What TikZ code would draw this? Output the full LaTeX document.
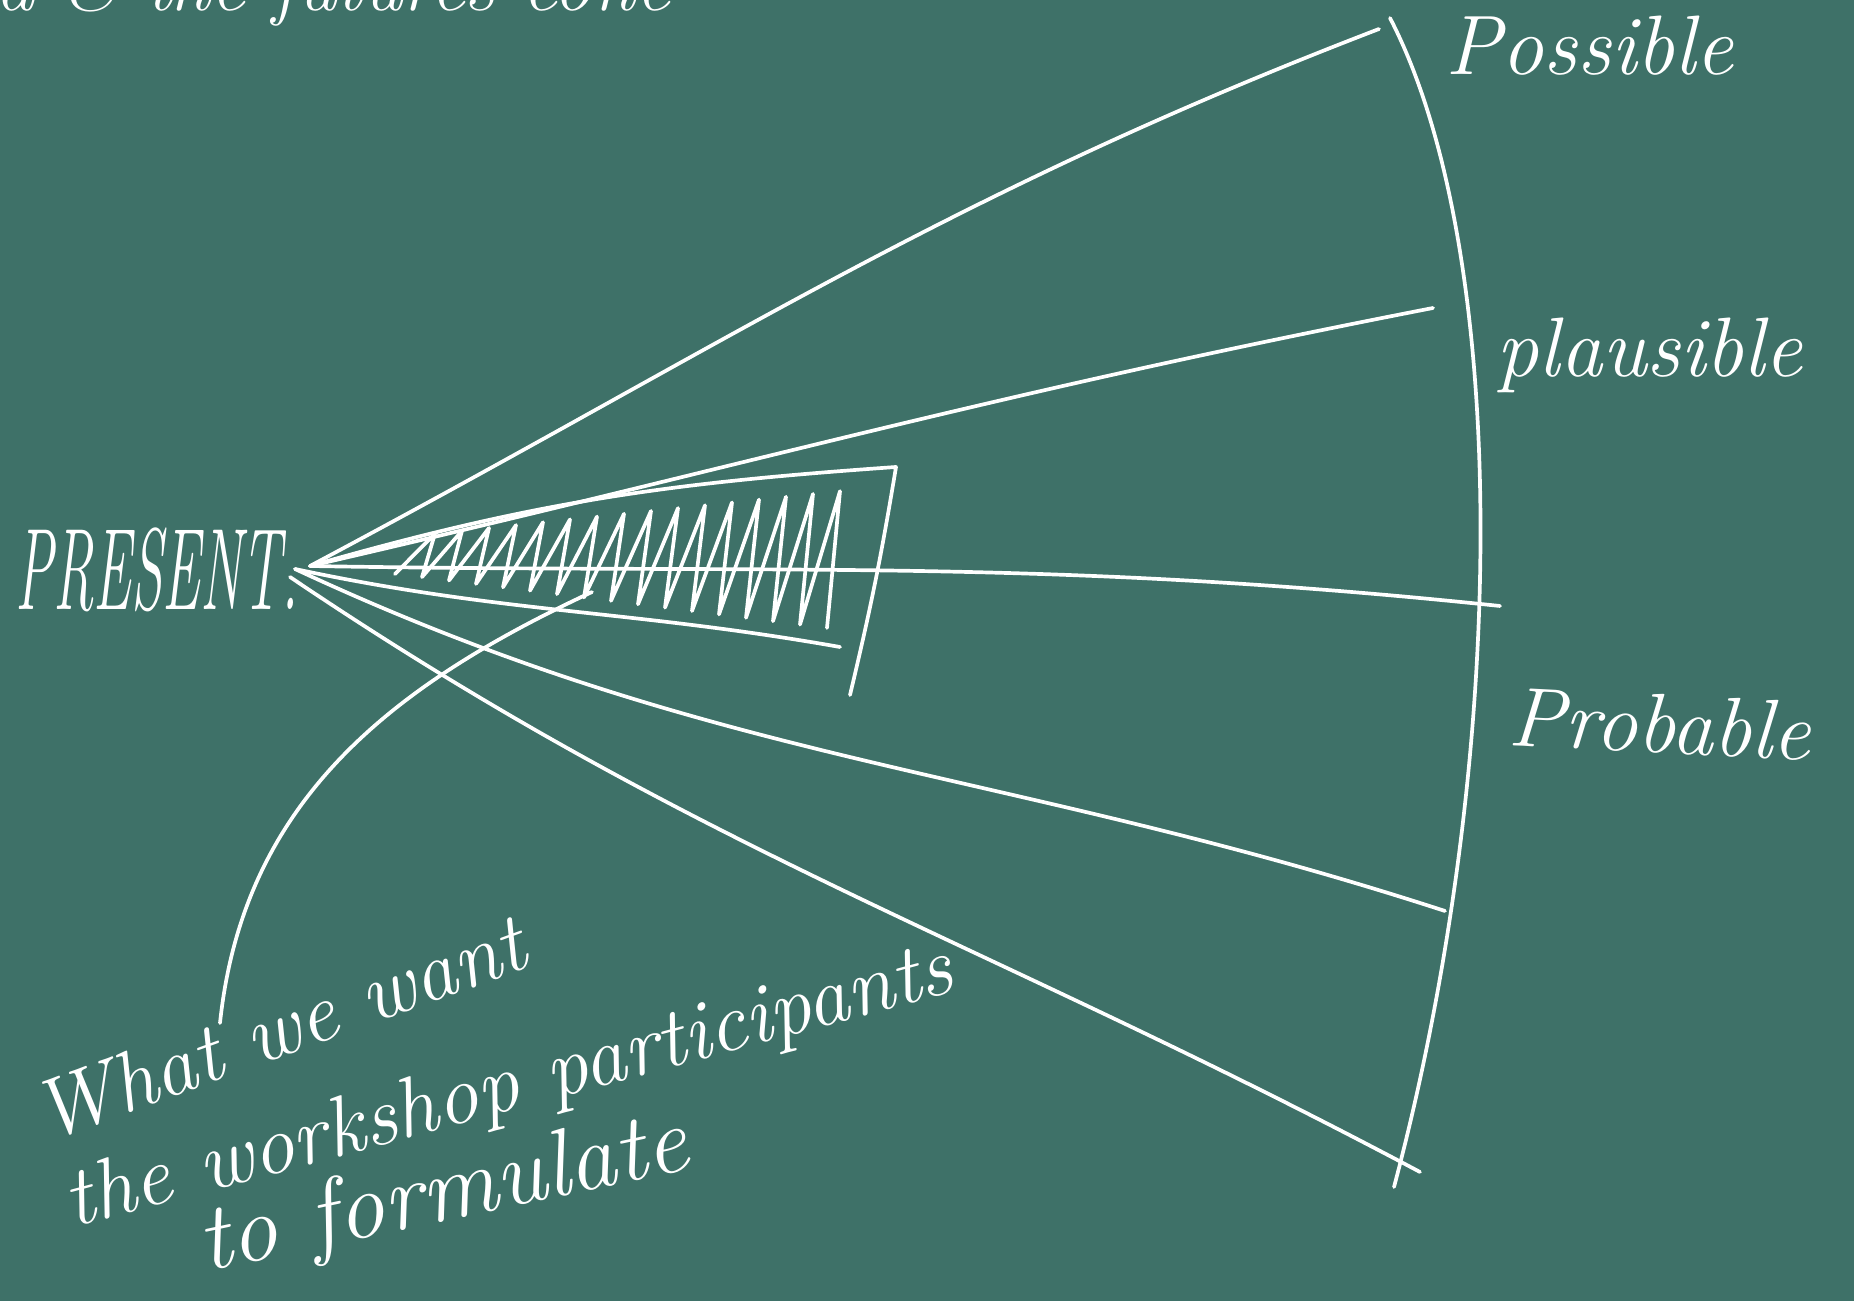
\documentclass[tikz,border=0pt]{standalone}
\usepackage{graphicx}
\usepackage{xcolor}
\definecolor{BoardGreen}{HTML}{3E7168}
\definecolor{Chalk}{HTML}{FFFFFF}
\usepackage{tikz}

\begin{document}
\begin{tikzpicture}[
  x=0.01cm, y=0.01cm,
  chalk/.style={draw=Chalk, line width=1.05pt, line cap=round, line join=round},
  tag/.style={text=Chalk, inner sep=0pt, anchor=base west,
    font=\fontsize{24}{28}\selectfont\itshape},
  hand/.style={text=Chalk, inner sep=0pt, anchor=base west,
    font=\fontsize{24}{28}\selectfont\itshape}
]
\fill[BoardGreen] (0,0) rectangle (1854,-1301);
\useasboundingbox (0,0) rectangle (1854,-1301);
\clip (0,0) rectangle (1854,-1301);

% heading, cut off by the top edge
\node[hand, font=\fontsize{22}{26}\selectfont\itshape] (heading) at (-5,-11) {a \& the futures cone};

% the cone
\coordinate (present) at (310,-566);
\coordinate (presentLow) at (295,-569);
\coordinate (presentBot) at (290,-577);
\coordinate (possEnd) at (1379,-29);
\coordinate (plauEnd) at (1433,-308);
\coordinate (probEnd) at (1500,-606);
\coordinate (lowEnd) at (1445,-911);
\coordinate (botEnd) at (1420,-1172);
\coordinate (arcTop) at (1390,-18);
\coordinate (arcBot) at (1394,-1187);

\node[anchor=base west, inner sep=0pt, text=Chalk, font=\fontsize{33}{38}\selectfont\itshape]
  (presentTxt) at (15,-610) {\scalebox{0.49}[1]{PRESENT.}};

\draw[chalk] (present) to[out=28, in=-159] (possEnd);
\draw[chalk] (present) to[out=13, in=-169] (plauEnd);
\draw[chalk] (present) to[out=-1, in=174] (probEnd);
\draw[chalk] (presentLow) to[out=-25, in=162] (lowEnd);
\draw[chalk] (presentBot) to[out=-34, in=152] (botEnd);
\draw[chalk] (arcTop) .. controls (1510,-250) and (1510,-750) .. (arcBot);

\node[tag] (possible) at (1445,-75) {Possible};
\node[tag] (plausible) at (1496,-377) {plausible};
\node[tag, rotate=-3] (probable) at (1507,-745) {Probable};

% hatched wedge
\coordinate (hatchNE) at (896,-467);
\coordinate (hatchSE) at (850,-695);
\coordinate (hatchBot) at (840,-647);
\coordinate (hatchStart) at (395,-574);
\draw[chalk] (present) to[out=16, in=184] (hatchNE) to[bend left=2] (hatchSE);
\draw[chalk] (presentLow) to[out=-12, in=170] (hatchBot);
\draw[chalk] (hatchStart) \foreach \i in {0,...,15}{
  -- ({435+27*\i},{-533.6+2.83*\i}) -- ({422+27*\i},{-577.1-3.39*\i}) };

% note
\node[hand, rotate=20] (noteA) at (45,-1143) {What we want};
\node[hand, rotate=15] (noteB) at (72,-1228) {the workshop participants};
\node[hand, rotate=12, font=\fontsize{27}{30}\selectfont\itshape] (noteC) at (205,-1272) {to formulate};
\coordinate (noteTip) at (220,-1023);
\coordinate (hatchPt) at (592,-592);
\draw[chalk] (noteTip) to[out=84, in=-155] (hatchPt);
\end{tikzpicture}
\end{document}
